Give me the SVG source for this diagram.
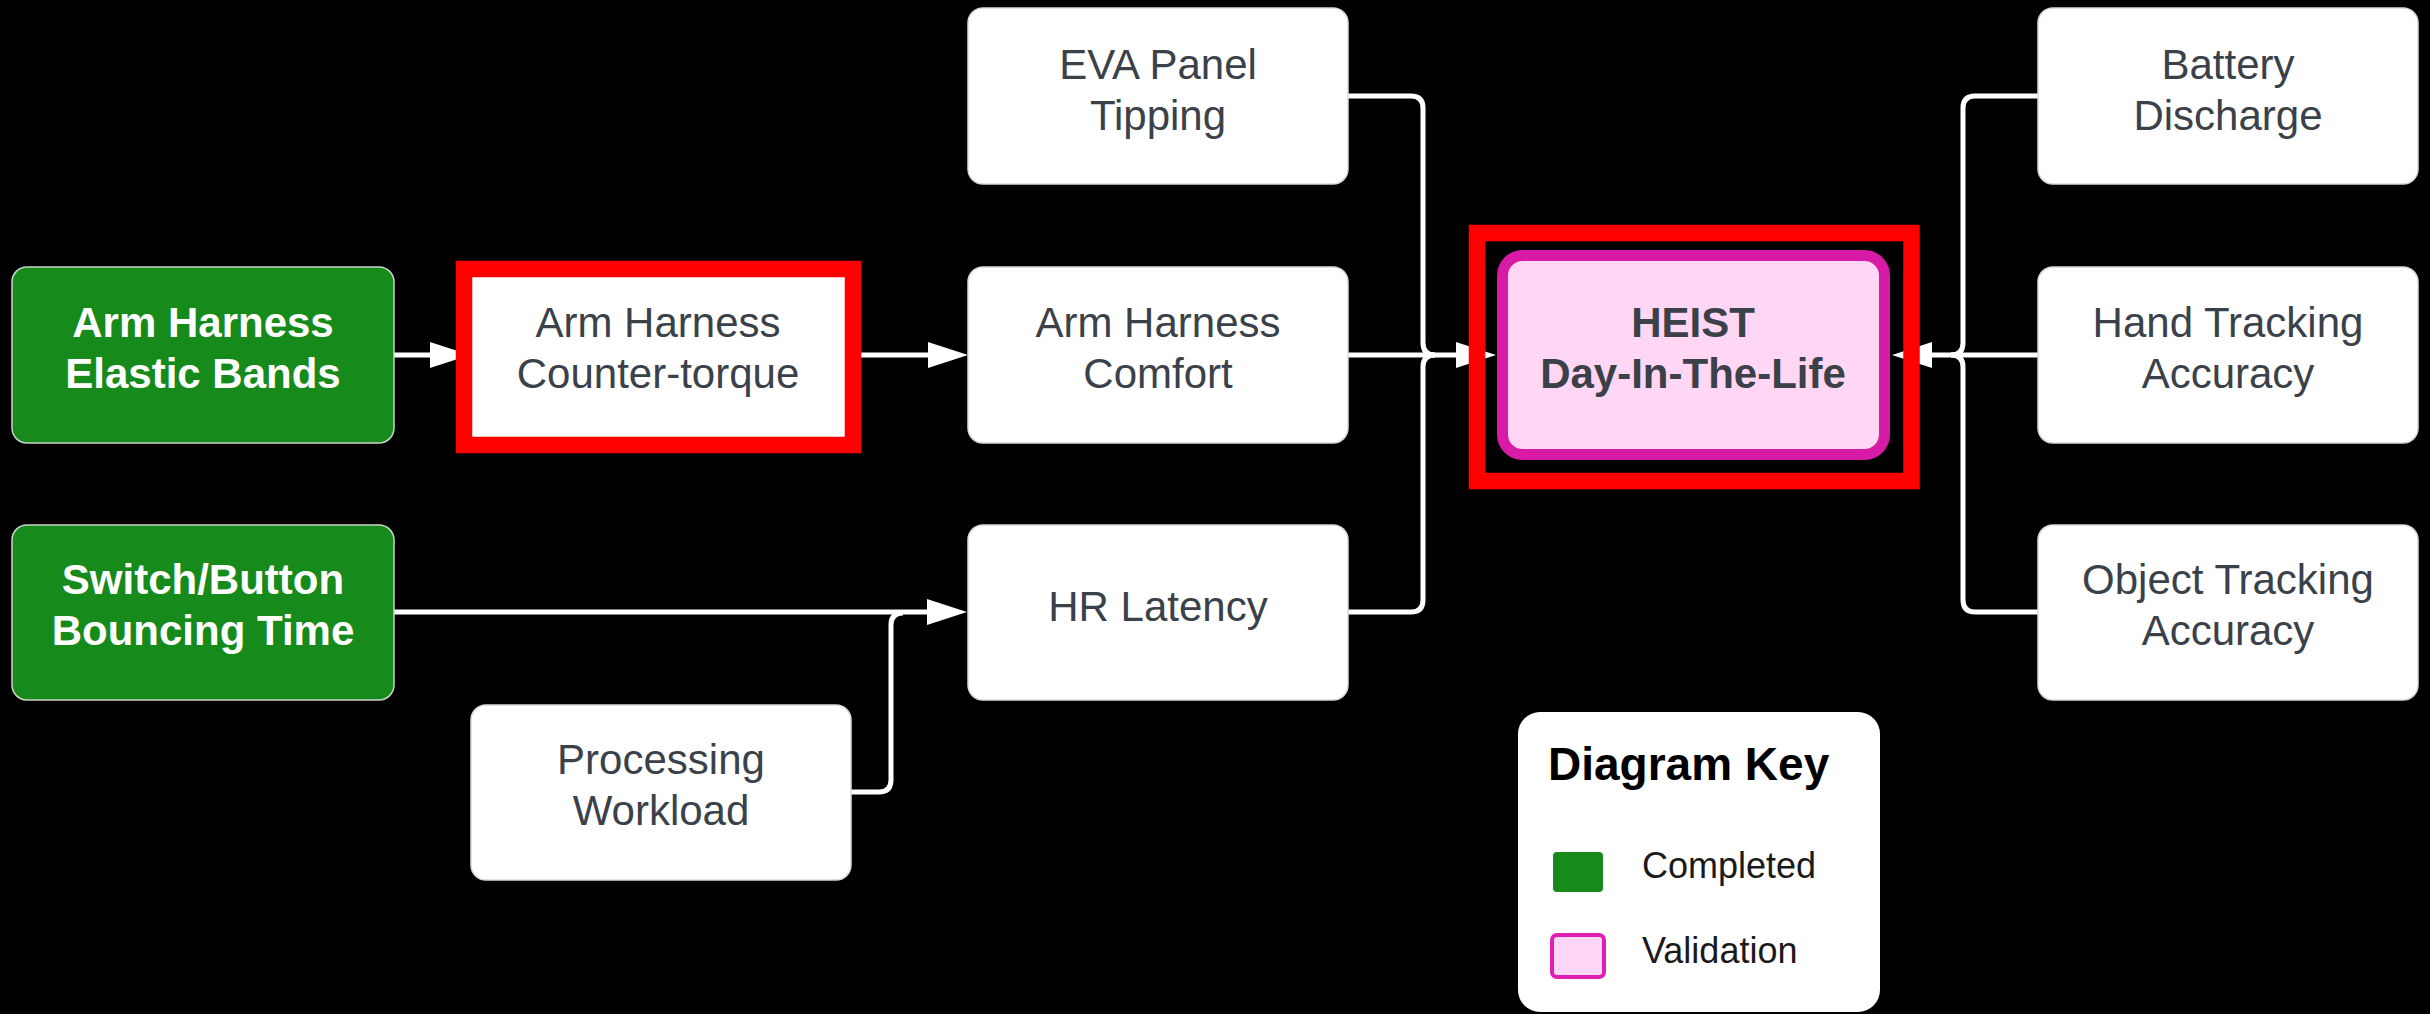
<svg xmlns="http://www.w3.org/2000/svg" width="2430" height="1014" viewBox="0 0 2430 1014">
<defs>
<style>
.bg{fill:#000}
.node{fill:#fff;stroke:#d9d9d9;stroke-width:1.5}
.done{fill:#178a1c;stroke:#c9d6c9;stroke-width:1.5}
.val{fill:#ffd6f4;stroke:#d81ba6;stroke-width:11}
.hl{fill:none;stroke:#ff0000;stroke-width:16.5}
.t{font-family:"Liberation Sans",Arial,sans-serif;font-size:42px;fill:#3a4149;text-anchor:middle}
.tw{font-family:"Liberation Sans",Arial,sans-serif;font-size:42px;font-weight:bold;fill:#fff;text-anchor:middle}
.tb{font-family:"Liberation Sans",Arial,sans-serif;font-size:42px;font-weight:bold;fill:#3a4149;text-anchor:middle}
.kt{font-family:"Liberation Sans",Arial,sans-serif;font-size:46px;font-weight:bold;fill:#000}
.kl{font-family:"Liberation Sans",Arial,sans-serif;font-size:36px;fill:#1a1a1a}
.c{fill:none;stroke:#fff;stroke-width:5}
</style>
<marker id="ah" markerUnits="userSpaceOnUse" markerWidth="40" markerHeight="26" refX="10" refY="13" orient="auto" viewBox="0 0 40 26">
<path d="M0,0 L40,13 L0,26 z" fill="#fff"/>
</marker>
</defs>
<rect class="bg" x="0" y="0" width="2430" height="1014"/>
<g id="connectors">
<path class="c" d="M394,355 H440" marker-end="url(#ah)"/>
<path class="c" d="M853,355 H938" marker-end="url(#ah)"/>
<path class="c" d="M1348,355 H1466" marker-end="url(#ah)"/>
<path class="c" d="M1348,96 H1411 Q1423,96 1423,108 V343 Q1423,355 1435,355"/>
<path class="c" d="M1348,612 H1411 Q1423,612 1423,600 V367 Q1423,355 1435,355"/>
<path class="c" d="M2038,355 H1922" marker-end="url(#ah)"/>
<path class="c" d="M2038,96 H1975 Q1963,96 1963,108 V343 Q1963,355 1951,355"/>
<path class="c" d="M2038,612 H1975 Q1963,612 1963,600 V367 Q1963,355 1951,355"/>
<path class="c" d="M394,612 H937" marker-end="url(#ah)"/>
<path class="c" d="M851,792 H879 Q891,792 891,780 V625 Q891,613 903,613"/>
</g>
<g id="elastic-bands">
<rect class="done" x="12" y="267" width="382" height="176" rx="15"/>
<text class="tw" x="203" y="337">Arm Harness</text>
<text class="tw" x="203" y="388">Elastic Bands</text>
</g>
<g id="counter-torque">
<rect class="node" x="466" y="267" width="386" height="176" rx="4"/>
<rect class="hl" x="464" y="269" width="389" height="176"/>
<text class="t" x="658" y="337">Arm Harness</text>
<text class="t" x="658" y="388">Counter-torque</text>
</g>
<g id="switch-button">
<rect class="done" x="12" y="525" width="382" height="175" rx="15"/>
<text class="tw" x="203" y="594">Switch/Button</text>
<text class="tw" x="203" y="645">Bouncing Time</text>
</g>
<g id="processing-workload">
<rect class="node" x="471" y="705" width="380" height="175" rx="15"/>
<text class="t" x="661" y="774">Processing</text>
<text class="t" x="661" y="825">Workload</text>
</g>
<g id="eva-panel">
<rect class="node" x="968" y="8" width="380" height="176" rx="15"/>
<text class="t" x="1158" y="79">EVA Panel</text>
<text class="t" x="1158" y="130">Tipping</text>
</g>
<g id="arm-harness-comfort">
<rect class="node" x="968" y="267" width="380" height="176" rx="15"/>
<text class="t" x="1158" y="337">Arm Harness</text>
<text class="t" x="1158" y="388">Comfort</text>
</g>
<g id="hr-latency">
<rect class="node" x="968" y="525" width="380" height="175" rx="15"/>
<text class="t" x="1158" y="621">HR Latency</text>
</g>
<g id="heist">
<rect class="val" x="1502.5" y="255.5" width="382" height="199" rx="20"/>
<rect class="hl" x="1477" y="233" width="434.5" height="248"/>
<text class="tb" x="1693" y="337">HEIST</text>
<text class="tb" x="1693" y="388">Day-In-The-Life</text>
</g>
<g id="battery-discharge">
<rect class="node" x="2038" y="8" width="380" height="176" rx="15"/>
<text class="t" x="2228" y="79">Battery</text>
<text class="t" x="2228" y="130">Discharge</text>
</g>
<g id="hand-tracking">
<rect class="node" x="2038" y="267" width="380" height="176" rx="15"/>
<text class="t" x="2228" y="337">Hand Tracking</text>
<text class="t" x="2228" y="388">Accuracy</text>
</g>
<g id="object-tracking">
<rect class="node" x="2038" y="525" width="380" height="175" rx="15"/>
<text class="t" x="2228" y="594">Object Tracking</text>
<text class="t" x="2228" y="645">Accuracy</text>
</g>
<g id="diagram-key">
<rect x="1518" y="712" width="362" height="300" rx="22" fill="#fff"/>
<text class="kt" x="1548" y="780">Diagram Key</text>
<rect x="1553" y="852" width="50" height="40" rx="4" fill="#178a1c"/>
<text class="kl" x="1642" y="878">Completed</text>
<rect x="1552" y="935" width="52" height="42" rx="5" fill="#ffd6f4" stroke="#e01fb0" stroke-width="4"/>
<text class="kl" x="1642" y="963">Validation</text>
</g>
</svg>
